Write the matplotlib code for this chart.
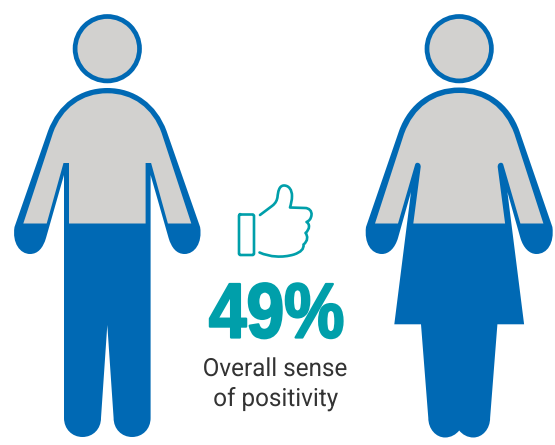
import matplotlib
matplotlib.use('Agg')
import matplotlib.pyplot as plt
from matplotlib.patches import PathPatch, Circle
from matplotlib.patheffects import AbstractPathEffect
from matplotlib.path import Path
from matplotlib.transforms import Affine2D

# chart content
POSITIVITY = 49
CAPTION_LINES = ['Overall sense', 'of positivity']

BLUE = '#0069B4'
GREY = '#D2D1CF'
TEAL = '#009FAA'
DARK = '#333333'

FILL_Y = 223.5   # level the blue rises to
HEAD_Y = 48.7
HEAD_R = 32.2


class Squeeze(AbstractPathEffect):
    # no condensed bold installed, so narrow the text when it is drawn
    def __init__(self, factor, stroke=0.0):
        super().__init__()
        self.factor = factor
        self.stroke = stroke

    def draw_path(self, renderer, gc, tpath, affine, rgbFace=None):
        x0, _, x1, _ = affine.transform_path(tpath).get_extents().extents
        cx = 0.5 * (x0 + x1)
        squeezed = affine + Affine2D().translate(-cx, 0).scale(self.factor, 1).translate(cx, 0)
        gc0 = renderer.new_gc()
        gc0.copy_properties(gc)
        if self.stroke:
            gc0.set_foreground(rgbFace)
            gc0.set_linewidth(self.stroke)
        renderer.draw_path(gc0, tpath, squeezed, rgbFace)
        gc0.restore()


def half(*segs):
    # segs are single points (line) or 3-tuples of points (bezier)
    verts, codes = [segs[0]], [Path.MOVETO]
    for s in segs[1:]:
        if isinstance(s[0], tuple):
            verts.extend(s)
            codes.extend([Path.CURVE4] * 3)
        else:
            verts.append(s)
            codes.append(Path.LINETO)
    return verts, codes


def mirrored(verts, codes, cx):
    # left half + the same half flipped round the centre line, walked backwards
    back = [(2 * cx - x, y) for x, y in verts[::-1]]
    return Path(verts + back[1:] + [verts[0]],
                codes + codes[1:][::-1] + [Path.CLOSEPOLY])


MAN_X = 107.3
man_outer = half((MAN_X, 88),
                 ((80, 88), (58, 104), (48, 131)),
                 (14.5, 227),
                 ((12, 243), (20, 254), (30, 254)),
                 ((38, 254), (43, 248), (46, 238)),
                 (64, 175),
                 (64, 418),
                 ((64, 429), (72, 437), (82.5, 437)),
                 ((93, 437), (101, 429), (101, 418)),
                 (MAN_X, 325))
man_inner = half((MAN_X, 93.3),
                 ((82, 93.3), (62, 108), (53, 133)),
                 (23.3, FILL_Y),
                 (46.7, FILL_Y),
                 (63.5, 163),
                 (69, 163),
                 (69, FILL_Y),
                 (MAN_X, FILL_Y))

WOMAN_X = 459.2
woman_outer = half((WOMAN_X, 87.5),
                   ((432, 87.5), (409, 103), (399, 131)),
                   (366, 227),
                   ((364, 243), (371, 254), (382, 254)),
                   ((389, 254), (395, 248), (398, 238)),
                   (411, 192),
                   (394.3, 324.3),
                   (421, 324.3),
                   (428.3, 418),
                   ((428.3, 429), (436, 437.5), (445, 437.5)),
                   ((451, 437.5), (456, 434.5), (WOMAN_X, 430.5)))
woman_inner = half((WOMAN_X, 93),
                   ((434, 93), (414, 107), (404, 134)),
                   (375, FILL_Y),
                   (398, FILL_Y),
                   (415, 165),
                   ((415.5, 163), (416.5, 162.8), (417.5, 162.8)),
                   ((419.5, 162.8), (420.8, 164.5), (420.7, 167)),
                   (413.3, FILL_Y),
                   (WOMAN_X, FILL_Y))

thumb = half((260, 215),
             ((264, 212), (268, 209), (272, 206)),
             ((276, 203), (277, 200), (277.5, 197)),
             ((278, 192), (279, 185.5), (284, 185.5)),
             ((289, 185.5), (292, 190), (292, 196)),
             ((292, 200), (291, 204), (290, 207.5)),
             (305, 208),
             ((309, 208), (312, 211), (311.5, 215)),
             ((311, 219), (309, 221), (306.5, 222)),
             ((310, 224), (310, 229), (305.5, 233)),
             ((308, 236), (308, 241), (303.5, 244.5)),
             ((304, 249), (301, 252), (294, 254.5)),
             ((282, 258), (270, 257), (259.5, 252.5)))

fig = plt.figure(figsize=(5.55, 4.45), dpi=100)
ax = fig.add_axes([0, 0, 1, 1])
ax.set_xlim(0, 555)
ax.set_ylim(445, 0)
ax.axis('off')

for cx, outer, inner in [(MAN_X, man_outer, man_inner),
                         (WOMAN_X, woman_outer, woman_inner)]:
    ax.add_patch(Circle((cx, HEAD_Y), HEAD_R, fc=GREY, ec=BLUE, lw=3.4))
    ax.add_patch(PathPatch(mirrored(*outer, cx), fc=BLUE, ec='none'))
    ax.add_patch(PathPatch(mirrored(*inner, cx), fc=GREY, ec='none'))

# thumbs up icon
ax.add_patch(PathPatch(Path(thumb[0], thumb[1]), fc='none', ec=TEAL, lw=1.9,
                       capstyle='round', joinstyle='round'))
ax.plot([240, 253, 254, 254, 253, 240, 239, 239, 240],
        [214.5, 214.5, 215.5, 254, 255, 255, 254, 215.5, 214.5],
        color=TEAL, lw=1.9, solid_joinstyle='round')

ax.text(276.5, 337.5, f'{POSITIVITY}%', color=TEAL, fontsize=56, fontweight='bold',
        family='Liberation Sans', ha='center', va='baseline',
        path_effects=[Squeeze(0.87, stroke=1.6)])
ax.text(275, 376, CAPTION_LINES[0], color=DARK, fontsize=18, family='Roboto',
        ha='center', va='baseline', path_effects=[Squeeze(0.97)])
ax.text(275.5, 406, CAPTION_LINES[1], color=DARK, fontsize=18, family='Roboto',
        ha='center', va='baseline', path_effects=[Squeeze(0.97)])

fig.savefig('out.png', dpi=100)
